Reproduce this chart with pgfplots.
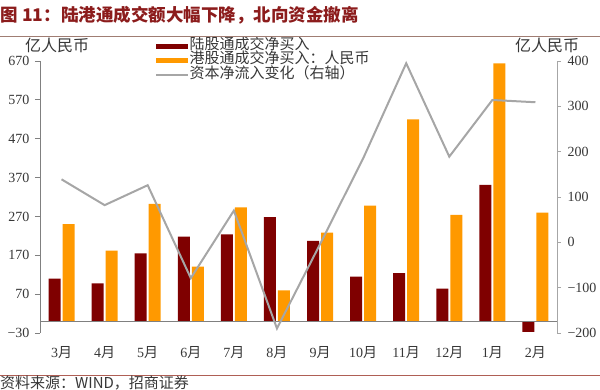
\documentclass[border=0pt]{standalone}
\usepackage{pgfplots}
\pgfplotsset{compat=1.18}
\usepackage{fontspec}
\setmainfont{Liberation Serif}
\newfontfamily\cjk{Noto Sans CJK SC}
\definecolor{darkred}{RGB}{127,0,0}
\definecolor{orng}{RGB}{255,153,0}
\definecolor{lgray}{RGB}{166,166,166}
\definecolor{axgray}{RGB}{128,128,128}
\definecolor{titlered}{RGB}{140,28,28}
\definecolor{txtgray}{RGB}{55,55,55}
\definecolor{rulegray}{RGB}{160,125,115}
\definecolor{rulered}{RGB}{175,95,85}
\pgfplotstableread{
x a b
0 110 250
1 98 182
2 175 302
3 218 141
4 224 293
5 268 80
6 207 228
7 115 298
8 124 520
9 84 274
10 351 664
11 -27 280
}\bars
\pgfplotstableread{
x c
0 139
1 82
2 126
3 -79
4 70
5 -190
6 -4
7 185
8 395
9 189
10 314
11 309
}\flow
\begin{document}
\begin{tikzpicture}
\begin{axis}[
  at={(40pt,57pt)}, anchor=south west,
  scale only axis, width=517pt, height=272pt,
  xmin=-0.5, xmax=11.5, ymin=-30, ymax=670,
  axis y line*=left, axis x line*=bottom,
  x axis line style={draw=none},
  y axis line style={axgray, line width=0.8pt},
  xtick={0,...,11},
  xticklabels={3{\cjk 月},4{\cjk 月},5{\cjk 月},6{\cjk 月},7{\cjk 月},8{\cjk 月},9{\cjk 月},10{\cjk 月},11{\cjk 月},12{\cjk 月},1{\cjk 月},2{\cjk 月}},
  xtick style={draw=none},
  ytick={-30,70,170,270,370,470,570,670},
  yticklabels={−30,70,170,270,370,470,570,670},
  ytick style={axgray, line width=0.8pt},
  tick align=outside, major tick length=5pt,
  tick label style={font=\fontsize{14}{16}\selectfont, text=txtgray},
  xticklabel style={yshift=-5pt},
  yticklabel style={xshift=-2pt},
  legend style={at={(axis description cs:0.2166,1.088)}, anchor=north west,
    draw=none, fill=none, font=\cjk\fontsize{15}{14}\selectfont, text=txtgray,
    nodes={inner sep=0.5pt, text height=10pt, text depth=3.2pt}},
  legend cell align=left,
]
\addplot[ybar, bar width=12pt, bar shift=-7pt, fill=darkred, draw=none,
  legend image code/.code={\fill[darkred] (0pt,-2.5pt) rectangle (32pt,2.5pt);}]
  table[x=x, y=a] {\bars};
\addlegendentry{陆股通成交净买入}
\addplot[ybar, bar width=12pt, bar shift=7pt, fill=orng, draw=none,
  legend image code/.code={\fill[orng] (0pt,-2.5pt) rectangle (32pt,2.5pt);}]
  table[x=x, y=b] {\bars};
\addlegendentry{港股通成交净买入：人民币}
\addlegendimage{lgray, line width=2pt, legend image code/.code={\draw[lgray, line width=2pt] (0pt,0pt) -- (32pt,0pt);}}
\addlegendentry{资本净流入变化（右轴）}
\draw[axgray, line width=0.8pt] (axis cs:-0.5,0) -- (axis cs:11.5,0);
\end{axis}
\begin{axis}[
  at={(40pt,57pt)}, anchor=south west,
  scale only axis, width=517pt, height=272pt,
  xmin=-0.5, xmax=11.5, ymin=-200, ymax=400,
  axis y line*=right, axis x line=none,
  y axis line style={lgray, line width=0.8pt},
  ytick={-200,-100,0,100,200,300,400},
  yticklabels={−200,−100,0,100,200,300,400},
  ytick style={lgray, line width=0.8pt},
  tick align=outside, major tick length=4pt,
  tick label style={font=\fontsize{14}{16}\selectfont, text=txtgray},
  yticklabel style={xshift=3pt},
]
\addplot[lgray, line width=2pt] table[x=x, y=c] {\flow};
\end{axis}
\node[anchor=west, font=\cjk\bfseries\fontsize{17.5}{19}\selectfont, text=titlered, inner sep=0pt] at (0.5pt,375pt) {图 11：陆港通成交额大幅下降，北向资金撤离};
\draw[rulegray, line width=1pt] (0pt,353.5pt) -- (600pt,353.5pt);
\node[font=\cjk\fontsize{16}{18}\selectfont, text=txtgray, inner sep=0pt] at (57pt,345pt) {亿人民币};
\node[font=\cjk\fontsize{16}{18}\selectfont, text=txtgray, inner sep=0pt] at (547pt,345pt) {亿人民币};
\draw[rulered, line width=0.8pt] (0pt,15pt) -- (600pt,15pt);
\node[anchor=west, font=\cjk\fontsize{15}{17}\selectfont, text=txtgray, inner sep=0pt] at (0pt,7pt) {资料来源：WIND，招商证券};
\pgfresetboundingbox
\path (0pt,0pt) rectangle (600pt,390pt);
\end{tikzpicture}
\end{document}
